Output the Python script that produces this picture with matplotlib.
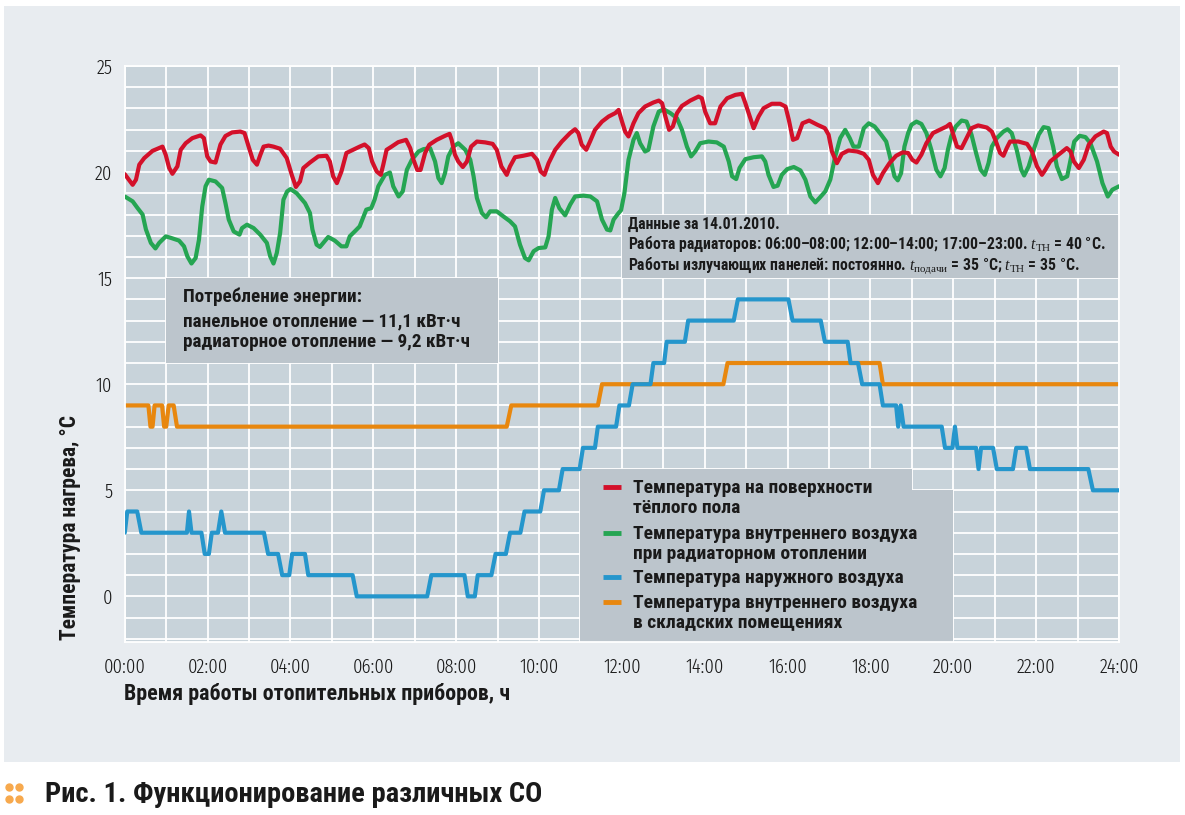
import numpy as np
import matplotlib.pyplot as plt
from matplotlib import font_manager
from matplotlib.patches import Rectangle, Polygon
from matplotlib.lines import Line2D

# --- данные (часы, °C) ---
floor_surface = [
    (0.0, 19.9), (0.19, 19.4), (0.27, 19.64), (0.35, 20.35), (0.47, 20.66), (0.67, 21.0), (0.79, 21.1),
    (0.91, 21.2), (0.99, 20.8), (1.07, 20.2), (1.15, 19.92), (1.27, 20.27), (1.35, 21.05), (1.47, 21.36),
    (1.63, 21.6), (1.83, 21.73), (1.91, 21.6), (1.99, 20.74), (2.07, 20.5), (2.19, 20.45), (2.31, 21.3),
    (2.43, 21.7), (2.59, 21.87), (2.79, 21.91), (2.89, 21.84), (2.99, 21.2), (3.09, 20.58), (3.19, 20.35),
    (3.27, 20.8), (3.35, 21.2), (3.47, 21.25), (3.59, 21.2), (3.75, 21.1), (3.91, 20.66), (4.03, 19.87),
    (4.13, 19.3), (4.23, 19.56), (4.31, 20.19), (4.47, 20.45), (4.67, 20.74), (4.87, 20.77), (4.95, 20.5),
    (5.03, 19.8), (5.12, 19.48), (5.23, 20.03), (5.35, 20.9), (5.51, 21.05), (5.67, 21.2), (5.79, 21.3),
    (5.89, 21.13), (5.97, 20.5), (6.08, 20.03), (6.18, 19.87), (6.24, 20.35), (6.32, 21.05), (6.44, 21.2),
    (6.6, 21.41), (6.79, 21.52), (6.89, 21.13), (6.97, 20.58), (7.06, 20.1), (7.14, 20.1), (7.25, 20.9),
    (7.35, 21.29), (7.53, 21.52), (7.73, 21.71), (7.84, 21.8), (7.89, 21.52), (7.97, 20.82), (8.05, 20.5),
    (8.16, 20.24), (8.26, 20.5), (8.36, 21.2), (8.5, 21.44), (8.7, 21.4), (8.88, 21.33), (8.98, 21.05),
    (9.09, 20.27), (9.22, 19.87), (9.3, 20.27), (9.42, 20.7), (9.62, 20.77), (9.83, 20.86), (9.95, 20.58),
    (10.04, 20.03), (10.13, 19.87), (10.23, 20.42), (10.39, 21.05), (10.55, 21.44), (10.75, 21.84),
    (10.87, 22.02), (10.95, 21.84), (11.03, 21.29), (11.14, 21.05), (11.23, 21.44), (11.35, 21.99),
    (11.52, 22.38), (11.68, 22.62), (11.84, 22.78), (11.92, 22.93), (12.0, 22.4), (12.08, 21.9),
    (12.16, 21.68), (12.28, 22.3), (12.4, 22.78), (12.56, 23.09), (12.76, 23.28), (12.89, 23.37),
    (12.97, 23.25), (13.05, 22.62), (13.14, 21.99), (13.23, 22.15), (13.33, 22.78), (13.45, 23.12),
    (13.65, 23.37), (13.85, 23.56), (13.93, 23.48), (14.01, 22.85), (14.13, 22.3), (14.25, 22.3),
    (14.38, 23.09), (14.54, 23.48), (14.74, 23.64), (14.9, 23.69), (14.98, 23.25), (15.1, 22.54),
    (15.18, 22.07), (15.3, 22.62), (15.42, 23.01), (15.62, 23.22), (15.82, 23.22), (15.95, 23.09),
    (16.03, 22.46), (16.13, 21.52), (16.23, 21.6), (16.36, 22.3), (16.52, 22.43), (16.72, 22.23),
    (16.9, 22.07), (16.99, 21.76), (17.07, 20.97), (17.19, 20.42), (17.31, 20.86), (17.47, 21.02),
    (17.68, 20.97), (17.84, 20.86), (17.96, 20.58), (18.06, 19.87), (18.18, 19.48), (18.3, 19.95),
    (18.46, 20.42), (18.62, 20.77), (18.78, 20.93), (18.91, 20.9), (19.01, 20.58), (19.11, 20.45),
    (19.23, 20.82), (19.35, 21.36), (19.51, 21.84), (19.67, 21.99), (19.84, 22.15), (19.92, 22.27),
    (20.0, 21.76), (20.09, 21.2), (20.2, 21.13), (20.32, 21.6), (20.44, 22.07), (20.6, 22.2), (20.81, 22.1),
    (20.93, 21.91), (21.03, 21.44), (21.13, 20.9), (21.21, 20.77), (21.29, 21.13), (21.37, 21.44),
    (21.57, 21.44), (21.78, 21.33), (21.9, 20.97), (22.02, 20.27), (22.14, 19.87), (22.22, 20.1),
    (22.34, 20.5), (22.54, 20.82), (22.74, 21.13), (22.83, 20.97), (22.91, 20.5), (23.03, 20.19),
    (23.15, 20.58), (23.27, 21.29), (23.43, 21.68), (23.63, 21.91), (23.71, 21.84), (23.8, 21.2),
    (23.88, 20.97), (24.0, 20.82),
]

radiator_air = [
    (0.0, 18.85), (0.19, 18.62), (0.31, 18.3), (0.43, 18.0), (0.51, 17.3), (0.63, 16.66), (0.74, 16.4),
    (0.83, 16.66), (0.99, 16.97), (1.11, 16.9), (1.31, 16.77), (1.43, 16.5), (1.51, 16.03), (1.61, 15.69),
    (1.71, 15.95), (1.79, 16.8), (1.87, 18.38), (1.95, 19.33), (2.03, 19.64), (2.19, 19.56), (2.35, 19.25),
    (2.43, 18.54), (2.51, 17.76), (2.63, 17.2), (2.77, 17.05), (2.83, 17.36), (2.95, 17.52), (3.11, 17.36),
    (3.27, 17.05), (3.43, 16.66), (3.51, 16.03), (3.59, 15.69), (3.67, 16.19), (3.75, 17.13), (3.83, 18.7),
    (3.92, 19.09), (4.0, 19.2), (4.15, 19.0), (4.35, 18.54), (4.47, 18.07), (4.53, 17.29), (4.63, 16.58),
    (4.71, 16.47), (4.79, 16.66), (4.91, 16.94), (5.07, 16.77), (5.23, 16.5), (5.35, 16.5), (5.43, 16.97),
    (5.55, 17.2), (5.67, 17.44), (5.83, 18.23), (5.95, 18.3), (6.03, 18.7), (6.12, 19.33), (6.28, 19.87),
    (6.4, 19.98), (6.48, 19.33), (6.61, 18.85), (6.71, 19.09), (6.81, 20.11), (6.93, 20.58), (7.09, 20.97),
    (7.21, 21.08), (7.37, 21.13), (7.49, 20.5), (7.57, 19.72), (7.65, 19.48), (7.73, 19.95), (7.81, 20.74),
    (7.93, 21.2), (8.05, 21.36), (8.22, 21.05), (8.34, 20.58), (8.42, 19.8), (8.5, 18.78), (8.62, 18.07),
    (8.72, 17.87), (8.82, 18.15), (8.98, 18.15), (9.14, 17.91), (9.3, 17.68), (9.42, 17.44), (9.54, 16.58),
    (9.66, 15.95), (9.75, 15.84), (9.87, 16.27), (9.99, 16.42), (10.15, 16.45), (10.23, 16.97),
    (10.31, 18.23), (10.39, 18.78), (10.49, 18.3), (10.63, 17.96), (10.75, 18.46), (10.87, 18.85),
    (11.07, 18.89), (11.24, 18.85), (11.4, 18.62), (11.52, 17.76), (11.64, 17.29), (11.72, 17.25),
    (11.8, 17.76), (11.92, 18.07), (11.98, 18.2), (12.06, 19.0), (12.16, 20.58), (12.28, 21.52),
    (12.36, 21.84), (12.44, 21.36), (12.56, 20.97), (12.64, 21.05), (12.76, 22.15), (12.89, 22.85),
    (13.01, 22.96), (13.17, 22.78), (13.33, 22.54), (13.45, 21.99), (13.57, 21.2), (13.67, 20.74),
    (13.77, 20.97), (13.89, 21.36), (14.09, 21.44), (14.29, 21.4), (14.46, 21.2), (14.58, 20.5),
    (14.66, 19.8), (14.76, 19.67), (14.84, 20.19), (14.98, 20.61), (15.18, 20.7), (15.38, 20.74),
    (15.46, 20.5), (15.54, 19.87), (15.66, 19.3), (15.76, 19.36), (15.86, 19.87), (15.99, 20.14),
    (16.15, 20.24), (16.31, 20.08), (16.43, 19.64), (16.55, 18.85), (16.67, 18.57), (16.77, 18.78),
    (16.91, 19.09), (17.03, 19.64), (17.15, 20.74), (17.27, 21.6), (17.39, 21.99), (17.5, 21.6),
    (17.59, 21.2), (17.72, 21.2), (17.84, 22.07), (17.96, 22.3), (18.1, 22.15), (18.26, 21.76),
    (18.38, 21.44), (18.46, 20.82), (18.58, 19.8), (18.66, 19.61), (18.74, 19.95), (18.82, 21.2),
    (18.91, 21.84), (18.99, 22.23), (19.11, 22.38), (19.23, 22.27), (19.35, 21.84), (19.47, 21.05),
    (19.59, 20.11), (19.69, 19.8), (19.79, 20.19), (19.87, 21.05), (19.95, 21.68), (20.06, 22.15),
    (20.2, 22.43), (20.32, 22.38), (20.44, 21.76), (20.55, 20.9), (20.66, 20.11), (20.76, 19.87),
    (20.85, 20.42), (20.93, 21.2), (21.05, 21.6), (21.21, 21.91), (21.31, 22.02), (21.41, 21.84),
    (21.53, 21.05), (21.64, 20.11), (21.71, 19.84), (21.82, 20.27), (21.94, 21.05), (22.06, 21.76),
    (22.18, 22.12), (22.3, 22.07), (22.41, 21.2), (22.5, 20.27), (22.62, 19.67), (22.75, 19.8),
    (22.83, 20.58), (22.92, 21.44), (23.05, 21.71), (23.19, 21.65), (23.31, 21.36), (23.47, 20.5),
    (23.6, 19.48), (23.73, 18.85), (23.84, 19.17), (24.0, 19.33),
]

outdoor_air = [
    (0.0, 3), (0.06, 4), (0.3, 4), (0.4, 3), (1.5, 3), (1.55, 4), (1.61, 3), (1.85, 3), (1.93, 2),
    (2.03, 2), (2.1, 3), (2.25, 3), (2.33, 4), (2.42, 3), (3.36, 3), (3.46, 2), (3.7, 2), (3.8, 1),
    (3.97, 1), (4.04, 2), (4.35, 2), (4.43, 1), (5.5, 1), (5.6, 0), (7.3, 0), (7.4, 1), (8.2, 1),
    (8.28, 0), (8.45, 0), (8.52, 1), (8.85, 1), (8.95, 2), (9.2, 2), (9.3, 3), (9.55, 3), (9.65, 4),
    (10.03, 4), (10.12, 5), (10.48, 5), (10.57, 6), (10.98, 6), (11.06, 7), (11.35, 7), (11.42, 8),
    (11.86, 8), (11.94, 9), (12.17, 9), (12.26, 10), (12.69, 10), (12.76, 11), (13.02, 11), (13.08, 12),
    (13.52, 12), (13.6, 13), (14.7, 13), (14.8, 14), (16.02, 14), (16.12, 13), (16.8, 13), (16.9, 12),
    (17.45, 12), (17.52, 11), (17.7, 11), (17.8, 10), (18.22, 10), (18.3, 9), (18.62, 9), (18.67, 8),
    (18.73, 9), (18.8, 8), (19.72, 8), (19.8, 7), (19.98, 7), (20.04, 8), (20.1, 7), (20.55, 7),
    (20.61, 6), (20.67, 7), (20.96, 7), (21.05, 6), (21.44, 6), (21.52, 7), (21.76, 7), (21.85, 6),
    (23.26, 6), (23.37, 5), (24.0, 5),
]

storage_air = [
    (0.0, 9), (0.57, 9), (0.62, 8), (0.67, 8), (0.72, 9), (0.9, 9), (0.95, 8), (1.0, 8), (1.06, 9),
    (1.18, 9), (1.26, 8), (9.22, 8), (9.33, 9), (11.42, 9), (11.52, 10), (14.45, 10), (14.55, 11),
    (18.22, 11), (18.3, 10), (24.0, 10),
]

series_labels = [
    'Температура на поверхности\nтёплого пола',
    'Температура внутреннего воздуха\nпри радиаторном отоплении',
    'Температура наружного воздуха',
    'Температура внутреннего воздуха\nв складских помещениях',
]
series_colors = ['#d3102a', '#25a552', '#2596cc', '#e8870e']

hour_ticks = list(range(0, 25, 2))
hour_labels = ['%02d:00' % h for h in hour_ticks]
temp_ticks = [0, 5, 10, 15, 20, 25]

energy_lines = ['Потребление энергии:',
                'панельное отопление — 11,1 кВт·ч',
                'радиаторное отопление — 9,2 кВт·ч']
info_lines = [
    'Данные за 14.01.2010.',
    'Работа радиаторов: 06:00–08:00; 12:00–14:00; 17:00–23:00. $t_{\\mathrm{TH}}$ = 40 °C.',
    'Работы излучающих панелей: постоянно. $t_{\\mathrm{подачи}}$ = 35 °C; $t_{\\mathrm{TH}}$ = 35 °C.',
]

# --- шрифты: узкие, с кириллицей ---
names = {f.name for f in font_manager.fontManager.ttflist}
BOLD_FONT = 'Roboto Condensed' if 'Roboto Condensed' in names else 'Liberation Sans'
TICK_FONT = 'Fira Sans Extra Condensed' if 'Fira Sans Extra Condensed' in names else BOLD_FONT

plt.rcParams['font.family'] = [BOLD_FONT, 'DejaVu Sans']
plt.rcParams['mathtext.fontset'] = 'custom'
plt.rcParams['mathtext.rm'] = 'Liberation Serif'
plt.rcParams['mathtext.it'] = 'Liberation Serif:italic'

TXT = '#1a1a1a'
PANEL = '#e8ecf0'
PLOT_BG = '#c8d3da'
BOX = '#bcc5cc'

fig = plt.figure(figsize=(11.85, 8.15), dpi=100)
fig.patches.append(Rectangle((4 / 1185, 53 / 815), 1176 / 1185, 756 / 815,
                             transform=fig.transFigure, facecolor=PANEL,
                             edgecolor='none', zorder=-1))

ax = fig.add_axes([0.1053, 0.2123, 0.839, 0.7067])
ax.set_facecolor(PLOT_BG)
ax.set_xlim(0, 24)
ax.set_ylim(-2.15, 25)

# сетка и подписи делений
ax.set_xticks(hour_ticks)
ax.set_xticklabels(hour_labels)
ax.set_xticks(range(0, 25), minor=True)
ax.set_yticks(temp_ticks)
ax.set_yticks(range(-2, 26), minor=True)
ax.grid(which='both', color='white', lw=1.3)
ax.set_axisbelow(True)
ax.tick_params(which='both', length=0)
ax.tick_params(axis='x', pad=11, labelsize=14.5, labelcolor=TXT)
ax.tick_params(axis='y', pad=9, labelsize=14.5, labelcolor=TXT)
for lbl in ax.get_xticklabels() + ax.get_yticklabels():
    lbl.set_family([TICK_FONT, 'DejaVu Sans'])
    lbl.set_weight(300)
for s in ax.spines.values():
    s.set_color('white')
    s.set_linewidth(1.3)

# подложки под подписи
ax.add_patch(Rectangle((1, 11), 8, 4, facecolor=BOX, edgecolor='none', zorder=1))
ax.add_patch(Rectangle((12, 15), 12, 3, facecolor=BOX, edgecolor='none', zorder=1))
ax.add_patch(Polygon([(11, -2.15), (11, 6), (19, 6), (19, 5), (20, 5), (20, -2.15)],
                     closed=True, facecolor=BOX, edgecolor='none', zorder=1))

# линии (снизу вверх: оранжевая, синяя, зелёная, красная)
for pts, color, z in [(storage_air, series_colors[3], 2), (outdoor_air, series_colors[2], 3),
                      (radiator_air, series_colors[1], 4), (floor_surface, series_colors[0], 5)]:
    h, t = np.array(pts).T
    ax.plot(h, t, color=color, lw=3, solid_joinstyle='round', solid_capstyle='round', zorder=z)

# тексты в рамках
for line, y in zip(energy_lines, [14.1, 12.98, 11.98]):
    ax.text(1.4, y, line, fontsize=13.8, fontweight='bold', color=TXT,
            va='center', ha='left', zorder=6)
for line, y in zip(info_lines, [17.55, 16.6, 15.57]):
    ax.text(12.15, y, line, fontsize=11.3, fontweight='bold', color=TXT,
            va='center', ha='left', zorder=6)

# легенда
row_y = [5.1, 2.95, 0.85, -0.3]
for label, color, y in zip(series_labels, series_colors, row_y):
    ax.plot([11.55, 11.98], [y + 0.05, y + 0.05], color=color, lw=3.5,
            solid_capstyle='butt', zorder=6)
    for j, part in enumerate(label.split('\n')):
        ax.text(12.27, y - j * 0.93, part, fontsize=14, fontweight='bold', color=TXT,
                va='center', ha='left', zorder=6)

# подписи осей
fig.text(70 / 1185, 1 - 528 / 815, 'Температура нагрева, °С', rotation=90,
         fontsize=15.5, fontweight='bold', color=TXT, ha='center', va='center')
fig.text(124 / 1185, 1 - 694 / 815, 'Время работы отопительных приборов, ч',
         fontsize=15.8, fontweight='bold', color=TXT, ha='left', va='center')

# подпись рисунка
fig.add_artist(Line2D([9 / 1185, 19 / 1185, 9 / 1185, 19 / 1185],
                      [1 - 786.5 / 815, 1 - 786.5 / 815, 1 - 798.5 / 815, 1 - 798.5 / 815],
                      transform=fig.transFigure, marker='o', ls='none', ms=5,
                      color='#f7a94d'))
fig.text(45 / 1185, 1 - 794 / 815, 'Рис. 1. Функционирование различных СО',
         fontsize=20.5, fontweight='bold', color=TXT, ha='left', va='center')

fig.savefig('out.png', dpi=100)
